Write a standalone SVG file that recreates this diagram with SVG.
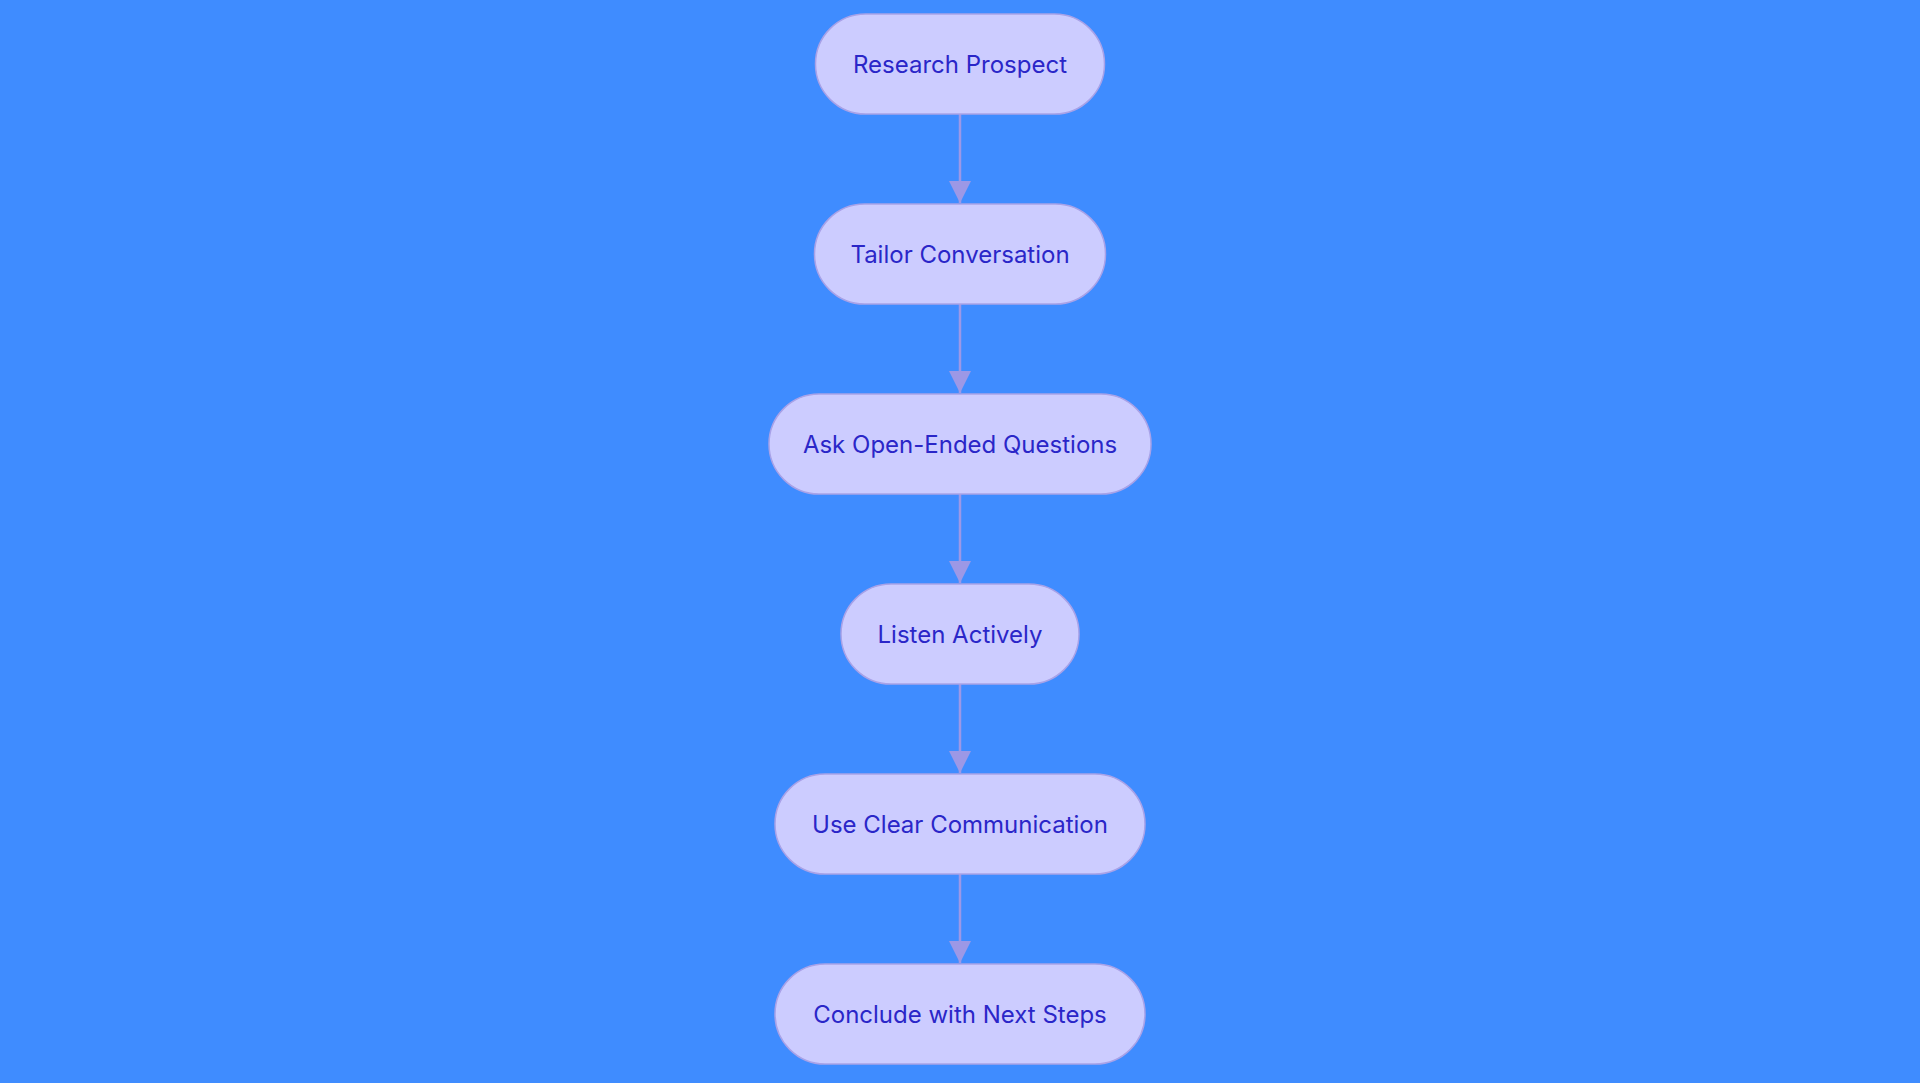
<svg xmlns="http://www.w3.org/2000/svg" width="1920" height="1083" viewBox="0 0 1920 1083">
<style>
.n{fill:#ccccff;stroke:#a8a2e8;stroke-width:1.5}
.t{font-family:Inter,"Open Sans",sans-serif;font-size:24px;fill:#2a26c8;text-anchor:middle;dominant-baseline:central}
.c{stroke:#9d98e6;stroke-width:2.5;fill:none}
</style>
<defs><marker id="a" markerWidth="10" markerHeight="10" refX="9" refY="5" orient="auto" markerUnits="userSpaceOnUse" viewBox="0 0 10 10"><path d="M0,0L10,5L0,10z" fill="#9d98e6"/></marker>
<marker id="b" viewBox="0 0 24 24" markerWidth="24" markerHeight="24" refX="22" refY="12" orient="auto" markerUnits="userSpaceOnUse"><path d="M0,1L22,12L0,23z" fill="#9d98e6"/></marker></defs>
<rect width="1920" height="1083" fill="#3f8cff"/>
<g id="connectors">
<line class="c" x1="960" y1="114" x2="960" y2="203" marker-end="url(#b)"/>
<line class="c" x1="960" y1="304" x2="960" y2="393" marker-end="url(#b)"/>
<line class="c" x1="960" y1="494" x2="960" y2="583" marker-end="url(#b)"/>
<line class="c" x1="960" y1="683" x2="960" y2="773" marker-end="url(#b)"/>
<line class="c" x1="960" y1="873" x2="960" y2="963" marker-end="url(#b)"/>
</g>
<g id="n1"><rect class="n" x="815.5" y="14" width="289" height="100" rx="50"/><text class="t" x="960" y="64">Research Prospect</text></g>
<g id="n2"><rect class="n" x="814.5" y="204" width="291" height="100" rx="50"/><text class="t" x="960" y="254">Tailor Conversation</text></g>
<g id="n3"><rect class="n" x="769" y="394" width="382" height="100" rx="50"/><text class="t" x="960" y="444">Ask Open-Ended Questions</text></g>
<g id="n4"><rect class="n" x="841" y="584" width="238" height="100" rx="50"/><text class="t" x="960" y="634">Listen Actively</text></g>
<g id="n5"><rect class="n" x="775" y="774" width="370" height="100" rx="50"/><text class="t" x="960" y="824">Use Clear Communication</text></g>
<g id="n6"><rect class="n" x="775" y="964" width="370" height="100" rx="50"/><text class="t" x="960" y="1014">Conclude with Next Steps</text></g>
</svg>
